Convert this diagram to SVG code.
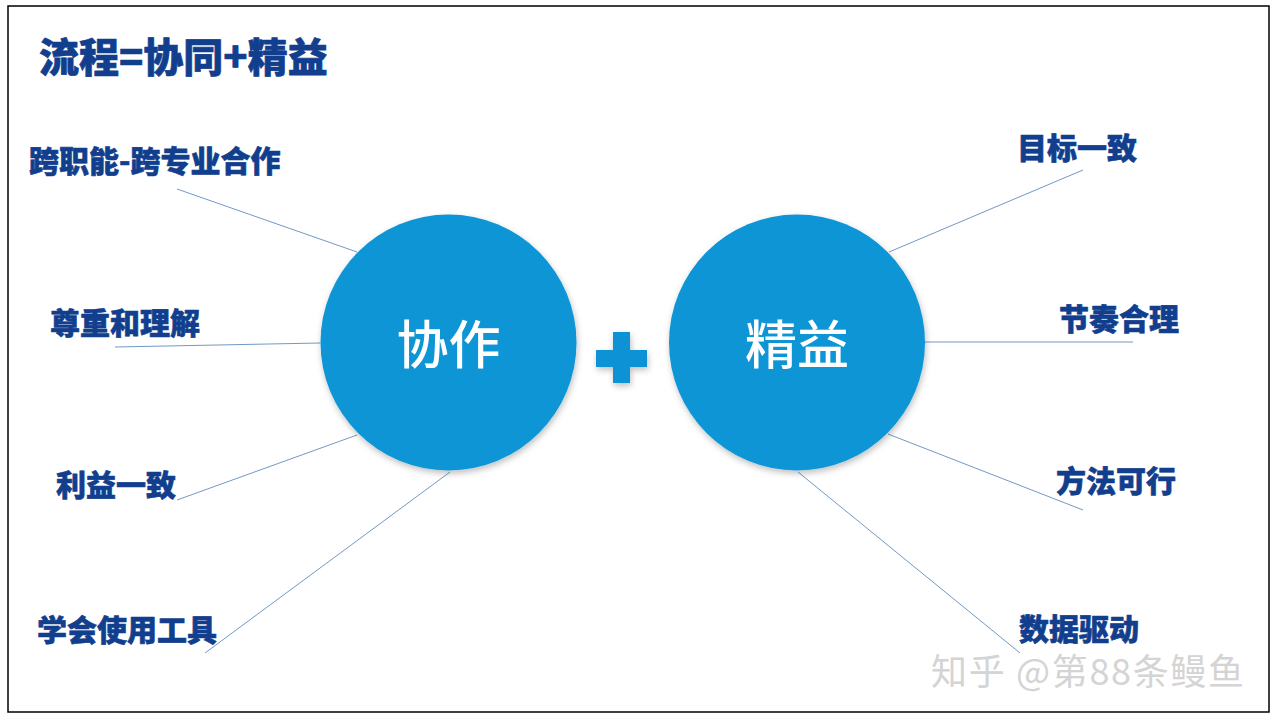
<svg xmlns="http://www.w3.org/2000/svg" width="1280" height="720" viewBox="0 0 1280 720">
  <defs>
    <style>
      .lbl { font-family: "Noto Sans CJK SC", "Noto Sans", sans-serif; font-weight: 900; font-size: 30px; fill: #123E8E; stroke: #123E8E; stroke-width: 0.6px; stroke-linejoin: round; }
      .title { font-family: "Noto Sans CJK SC", "Noto Sans", sans-serif; font-weight: 900; font-size: 40px; fill: #123E8E; stroke: #123E8E; stroke-width: 0.7px; stroke-linejoin: round; }
      .ctext { font-family: "Noto Sans CJK SC", "Noto Sans", sans-serif; font-weight: 500; font-size: 52px; fill: #ffffff; text-anchor: middle; }
      .circ { fill: #0B95D6; }
      .conn line { stroke: #7299C4; stroke-width: 1; }
      .wm { font-family: "Noto Sans CJK SC", "Noto Sans", sans-serif; font-size: 36px; fill: #D4D4D4; }
    </style>
    <filter id="sh" x="-20%" y="-20%" width="140%" height="140%">
      <feDropShadow dx="1" dy="3" stdDeviation="3" flood-color="#000" flood-opacity="0.25"/>
    </filter>
  </defs>
  <rect x="0" y="0" width="1280" height="720" fill="#ffffff"/>
  <rect x="8" y="6" width="1261" height="706" fill="#ffffff" stroke="#000000" stroke-width="1.5"/>

  <g id="title"><text class="title" x="39" y="72">流程=协同+精益</text></g>

  <g id="connectors" class="conn">
    <line x1="177" y1="189" x2="357" y2="252"/>
    <line x1="115" y1="347" x2="320" y2="343"/>
    <line x1="177" y1="500" x2="357" y2="435"/>
    <line x1="205" y1="653" x2="450" y2="472"/>
    <line x1="1083" y1="170" x2="889" y2="252"/>
    <line x1="925" y1="342" x2="1133" y2="342"/>
    <line x1="888" y1="434" x2="1083" y2="510"/>
    <line x1="798" y1="472" x2="1020" y2="653"/>
  </g>

  <g id="node-xiezuo">
    <circle class="circ" cx="448.5" cy="342.5" r="128" filter="url(#sh)"/>
    <text class="ctext" x="448.5" y="364">协作</text>
  </g>

  <g id="plus" filter="url(#sh)">
    <rect x="596" y="350" width="51" height="17" fill="#1192D6"/>
    <rect x="613" y="332" width="17" height="51" fill="#1192D6"/>
  </g>

  <g id="node-jingyi">
    <circle class="circ" cx="797" cy="342.5" r="128" filter="url(#sh)"/>
    <text class="ctext" x="797" y="364">精益</text>
  </g>

  <g id="label-1"><text class="lbl" x="29" y="172">跨职能-跨专业合作</text></g>
  <g id="label-2"><text class="lbl" x="50" y="334">尊重和理解</text></g>
  <g id="label-3"><text class="lbl" x="56" y="496">利益一致</text></g>
  <g id="label-4"><text class="lbl" x="37" y="641">学会使用工具</text></g>
  <g id="label-5"><text class="lbl" x="1017" y="159">目标一致</text></g>
  <g id="label-6"><text class="lbl" x="1059" y="330">节奏合理</text></g>
  <g id="label-7"><text class="lbl" x="1056" y="492">方法可行</text></g>
  <g id="label-8"><text class="lbl" x="1019" y="640">数据驱动</text></g>

  <g id="watermark"><text class="wm" x="931" y="685" textLength="313">知乎 @第88条鳗鱼</text></g>
</svg>
